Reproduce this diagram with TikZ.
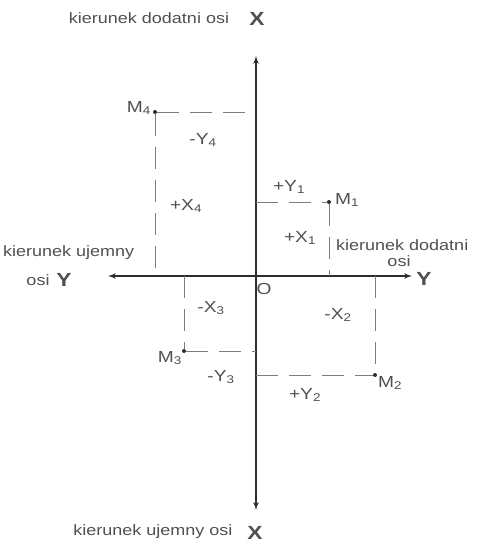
\documentclass[tikz,border=0pt]{standalone}
\usepackage{fontspec}
\setmainfont{Liberation Sans}[FakeStretch=1.2]
\usepackage{tikz}
\usetikzlibrary{arrows, positioning}
\definecolor{inkgray}{RGB}{80,80,80}
\definecolor{axisgray}{RGB}{45,45,45}
\definecolor{dashgray}{RGB}{125,125,125}

\begin{document}
\begin{tikzpicture}[
            x=1pt, y=-1pt,
            axis/.style={draw=axisgray, line width=1.6pt, <->, >=latex'},
            guide/.style={draw=dashgray, line width=0.9pt, dash pattern=on 22pt off 11pt},
            point/.style={circle, fill=axisgray, inner sep=0pt, minimum size=4pt},
            caption/.style={text=inkgray, font=\fontsize{15}{17}\selectfont, inner sep=0pt},
            axisname/.style={text=inkgray, font=\fontsize{19}{21}\selectfont\bfseries, inner sep=0pt},
            lbl/.style={text=inkgray, font=\fontsize{16}{18}\selectfont, inner sep=0pt}
        ]
            \useasboundingbox (0,0) rectangle (484,549);

            % axes
            \coordinate (O) at (256,276);
            \coordinate (xtop) at (256,56);
            \coordinate (xbot) at (256,510);
            \coordinate (yleft) at (108,276);
            \coordinate (yright) at (412,276);
            \draw[axis] (xbot) -- (xtop);
            \draw[axis] (yleft) -- (yright);

            % points
            \node[point] (M1) at (329,202) {};
            \node[point] (M2) at (375,375) {};
            \node[point] (M3) at (184,351) {};
            \node[point] (M4) at (155,112) {};

            \coordinate (M1x) at (M1 -| O);
            \coordinate (M1y) at (M1 |- O);
            \coordinate (M2x) at (M2 -| O);
            \coordinate (M2y) at (M2 |- O);
            \coordinate (M3x) at (M3 -| O);
            \coordinate (M3y) at (M3 |- O);
            \coordinate (M4x) at (M4 -| O);
            \coordinate (M4y) at (M4 |- O);

            \draw[guide] (M1x) -- (M1);
            \draw[guide] (M1) -- (M1y);
            \draw[guide] (M2x) -- (M2);
            \draw[guide] (M2y) -- (M2);
            \draw[guide] (M3) -- (M3x);
            \draw[guide] (M3y) -- (M3);
            \draw[guide] (M4) -- (M4x);
            \draw[guide] (M4) -- (M4y);

            % point labels
            \node[lbl, anchor=east] (nM4) at (151,108) {M\textsubscript{4}};
            \node[lbl, anchor=west] (nM1) at (335,200) {M\textsubscript{1}};
            \node[lbl, anchor=east] (nM3) at (182,358) {M\textsubscript{3}};
            \node[lbl, anchor=west] (nM2) at (378,383) {M\textsubscript{2}};

            \node[lbl] (lY4) at (203,140) {-Y\textsubscript{4}};
            \node[lbl] (lX4) at (186,206) {+X\textsubscript{4}};
            \node[lbl] (lY1) at (289,187) {+Y\textsubscript{1}};
            \node[lbl] (lX1) at (300,238) {+X\textsubscript{1}};
            \node[lbl] (lX3) at (211,308) {-X\textsubscript{3}};
            \node[lbl] (lY3) at (221,377) {-Y\textsubscript{3}};
            \node[lbl] (lX2) at (338,315) {-X\textsubscript{2}};
            \node[lbl] (lY2) at (305,395) {+Y\textsubscript{2}};
            \node[lbl] (lO) at (264,289) {O};

            % axis captions
            \node[caption] (xpos) at (149,18) {kierunek dodatni osi};
            \node[axisname] (xposname) at (257,19) {X};
            \node[caption] (xneg) at (153,532) {kierunek ujemny osi};
            \node[axisname] (xnegname) at (255,533) {X};
            \node[caption, anchor=west] (yneg) at (3,253) {kierunek ujemny};
            \node[caption] (ynegosi) at (38,280) {osi};
            \node[axisname] (ynegname) at (64,280) {Y};
            \node[caption, anchor=west] (ypos) at (336,245) {kierunek dodatni};
            \node[caption] (ypososi) at (399,261) {osi};
            \node[axisname] (yposname) at (424,279) {Y};
        \end{tikzpicture}
\end{document}
